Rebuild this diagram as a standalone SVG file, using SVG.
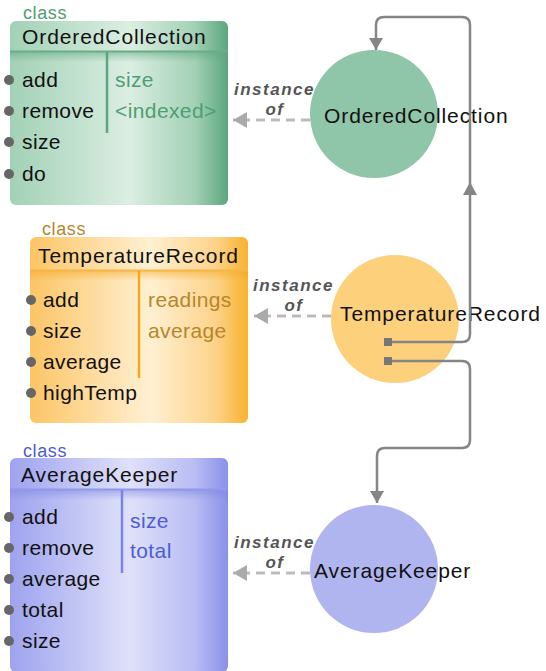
<svg xmlns="http://www.w3.org/2000/svg" width="546" height="671" viewBox="0 0 546 671">
<defs>
<linearGradient id="gG" x1="0" y1="0" x2="1" y2="0"><stop offset="0" stop-color="#a2d1b6"/><stop offset="0.55" stop-color="#dbeee2"/><stop offset="0.85" stop-color="#a2d0b5"/><stop offset="1" stop-color="#5ba67d"/></linearGradient>
<linearGradient id="gO" x1="0" y1="0" x2="1" y2="0"><stop offset="0" stop-color="#fcc566"/><stop offset="0.55" stop-color="#fff0d2"/><stop offset="0.85" stop-color="#fdd38a"/><stop offset="1" stop-color="#f8b22e"/></linearGradient>
<linearGradient id="gB" x1="0" y1="0" x2="1" y2="0"><stop offset="0" stop-color="#9ea3ef"/><stop offset="0.55" stop-color="#dfe1f9"/><stop offset="0.85" stop-color="#b8bcf3"/><stop offset="1" stop-color="#8990e8"/></linearGradient>
<linearGradient id="shG" x1="0" y1="0" x2="0" y2="1"><stop offset="0" stop-color="#5ba67d" stop-opacity="0.5"/><stop offset="1" stop-color="#5ba67d" stop-opacity="0"/></linearGradient>
<linearGradient id="shO" x1="0" y1="0" x2="0" y2="1"><stop offset="0" stop-color="#f3a820" stop-opacity="0.5"/><stop offset="1" stop-color="#f3a820" stop-opacity="0"/></linearGradient>
<linearGradient id="shB" x1="0" y1="0" x2="0" y2="1"><stop offset="0" stop-color="#7c83e0" stop-opacity="0.5"/><stop offset="1" stop-color="#7c83e0" stop-opacity="0"/></linearGradient>
<marker id="ah" markerWidth="14" markerHeight="14" refX="12" refY="7" orient="auto" markerUnits="userSpaceOnUse"><path d="M0,0 L12,7 L0,14 Z" fill="#858585"/></marker>
<marker id="ih" markerWidth="16" markerHeight="16" refX="14" refY="8" orient="auto" markerUnits="userSpaceOnUse"><path d="M0,0 L14,8 L0,16 Z" fill="#aaaaaa"/></marker>
</defs>
<style>
text{font-family:"Liberation Sans",Arial,sans-serif}
.title{font-size:21px;letter-spacing:0.9px;fill:#111}
.m{font-size:21px;letter-spacing:0.4px;fill:#111}
.cls{font-size:18px;letter-spacing:0.6px}
.inst{font-size:17px;font-weight:bold;font-style:italic;fill:#555;letter-spacing:1.5px}
.dot{fill:#666}
.conn{fill:none;stroke:#858585;stroke-width:2.5}
.dash{fill:none;stroke:#bbbbbb;stroke-width:3;stroke-dasharray:9 6}
.lbl{font-size:21px;letter-spacing:0.9px;fill:#111}
</style>

<g id="class-OrderedCollection">
<text class="cls" x="23" y="19" fill="#4f9e72">class</text>
<rect x="10" y="21" width="218" height="184" rx="6" fill="url(#gG)"/>
<rect x="10" y="52" width="218" height="10" fill="url(#shG)"/>
<line x1="10" y1="51.5" x2="228" y2="51.5" stroke="#6aae88" stroke-width="2"/>
<line x1="107" y1="52" x2="107" y2="133" stroke="#5ba67d" stroke-width="2.5"/>
<text class="title" x="22" y="44">OrderedCollection</text>
<circle class="dot" cx="9" cy="80" r="5"/><text class="m" x="22" y="87">add</text>
<circle class="dot" cx="9" cy="111" r="5"/><text class="m" x="22" y="118">remove</text>
<circle class="dot" cx="9" cy="142" r="5"/><text class="m" x="22" y="149">size</text>
<circle class="dot" cx="9" cy="174" r="5"/><text class="m" x="22" y="181">do</text>
<text class="m" x="115" y="87" style="fill:#4f9e72">size</text>
<text class="m" x="115" y="118" style="fill:#4f9e72">&lt;indexed&gt;</text>
</g>

<g id="class-TemperatureRecord">
<text class="cls" x="42" y="235" fill="#b7862c">class</text>
<rect x="30" y="237" width="218" height="186" rx="6" fill="url(#gO)"/>
<rect x="30" y="271" width="218" height="10" fill="url(#shO)"/>
<line x1="30" y1="270.5" x2="248" y2="270.5" stroke="#f5b548" stroke-width="2"/>
<line x1="139" y1="271" x2="139" y2="378" stroke="#f3a820" stroke-width="2.5"/>
<text class="title" x="38" y="263">TemperatureRecord</text>
<circle class="dot" cx="31" cy="300" r="5"/><text class="m" x="43" y="307">add</text>
<circle class="dot" cx="31" cy="331" r="5"/><text class="m" x="43" y="338">size</text>
<circle class="dot" cx="31" cy="362" r="5"/><text class="m" x="43" y="369">average</text>
<circle class="dot" cx="31" cy="393" r="5"/><text class="m" x="43" y="400">highTemp</text>
<text class="m" x="148" y="307" style="fill:#b7862c">readings</text>
<text class="m" x="148" y="338" style="fill:#b7862c">average</text>
</g>

<g id="class-AverageKeeper">
<text class="cls" x="23" y="457" fill="#4d5bd6">class</text>
<rect x="10" y="458" width="218" height="214" rx="6" fill="url(#gB)"/>
<rect x="10" y="490" width="218" height="10" fill="url(#shB)"/>
<line x1="10" y1="489.5" x2="228" y2="489.5" stroke="#9298ea" stroke-width="2"/>
<line x1="122" y1="490" x2="122" y2="573" stroke="#7c83e0" stroke-width="2.5"/>
<text class="title" x="21" y="482">AverageKeeper</text>
<circle class="dot" cx="9" cy="517" r="5"/><text class="m" x="22" y="524">add</text>
<circle class="dot" cx="9" cy="548" r="5"/><text class="m" x="22" y="555">remove</text>
<circle class="dot" cx="9" cy="579" r="5"/><text class="m" x="22" y="586">average</text>
<circle class="dot" cx="9" cy="610" r="5"/><text class="m" x="22" y="617">total</text>
<circle class="dot" cx="9" cy="641" r="5"/><text class="m" x="22" y="648">size</text>
<text class="m" x="130" y="528" style="fill:#4d5bd6">size</text>
<text class="m" x="130" y="558" style="fill:#4d5bd6">total</text>
</g>

<g id="obj-OrderedCollection">
<circle cx="374" cy="114" r="64" fill="#8fc5a8"/>
<text class="lbl" x="324" y="123">OrderedCollection</text>
</g>

<g id="obj-TemperatureRecord">
<circle cx="395" cy="319" r="64" fill="#fdd07c"/>
<text class="lbl" x="340" y="321">TemperatureRecord</text>
<rect x="384" y="338" width="8" height="8" fill="#777"/>
<rect x="384" y="357" width="8" height="8" fill="#777"/>
</g>

<g id="obj-AverageKeeper">
<circle cx="374" cy="569" r="64" fill="#b0b5f0"/>
<text class="lbl" x="314" y="578">AverageKeeper</text>
</g>

<g id="connectors">
<path class="conn" d="M392,342 H462 Q470,342 470,334 V25 Q470,17 462,17 H384 Q376,17 376,25 V50" marker-end="url(#ah)"/>
<path d="M470,182 L463,195 L477,195 Z" fill="#858585"/>
<path class="conn" d="M392,361 H462 Q470,361 470,369 V440 Q470,448 462,448 H385 Q377,448 377,456 V503" marker-end="url(#ah)"/>

<path class="dash" d="M310,120 H233" marker-end="url(#ih)"/>
<text class="inst" x="234" y="95">instance</text>
<text class="inst" x="275" y="115" text-anchor="middle">of</text>

<path class="dash" d="M331,316 H254" marker-end="url(#ih)"/>
<text class="inst" x="253" y="291">instance</text>
<text class="inst" x="294" y="311" text-anchor="middle">of</text>

<path class="dash" d="M310,573 H233" marker-end="url(#ih)"/>
<text class="inst" x="234" y="548">instance</text>
<text class="inst" x="275" y="568" text-anchor="middle">of</text>
</g>
</svg>
